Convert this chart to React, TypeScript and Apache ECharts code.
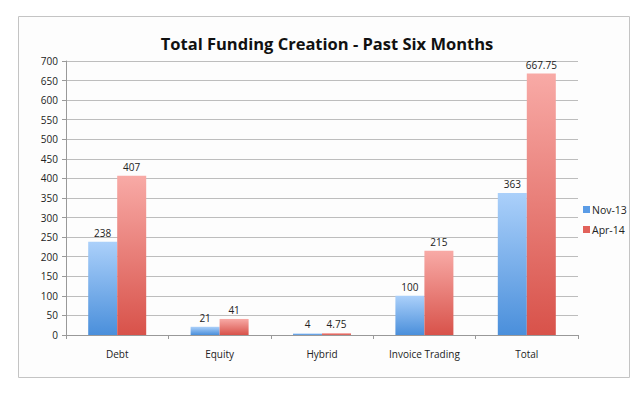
import React, { useEffect, useRef } from "react";
import * as echarts from "echarts";

const categories = ["Debt", "Equity", "Hybrid", "Invoice Trading", "Total"];
const nov13 = [238, 21, 4, 100, 363];
const apr14 = [407, 41, 4.75, 215, 667.75];
const seriesNames = ["Nov-13", "Apr-14"];

export default function App() {
  const ref = useRef<HTMLDivElement>(null);
  useEffect(() => {
    const chart = echarts.init(ref.current!, null, { renderer: "svg" });
    const blue = new echarts.graphic.LinearGradient(0, 0, 0, 1, [
      { offset: 0, color: "#abd0fa" },
      { offset: 1, color: "#4a8fdb" },
    ]);
    const red = new echarts.graphic.LinearGradient(0, 0, 0, 1, [
      { offset: 0, color: "#f8aaa6" },
      { offset: 1, color: "#d8524a" },
    ]);
    const font = "'Open Sans', 'Noto Sans', sans-serif";
    chart.setOption({
      animation: false,
      backgroundColor: "#ffffff",
      graphic: [
        {
          type: "rect",
          z: -10,
          shape: { x: 18.5, y: 16.5, width: 611, height: 361 },
          style: { fill: "#fdfdfd", stroke: "#c4c4c4", lineWidth: 1 },
        },
      ],
      title: {
        text: "Total Funding Creation - Past Six Months",
        left: 322,
        textAlign: "center",
        top: 30,
        textStyle: { fontFamily: font, fontSize: 16.5, fontWeight: "bold", color: "#111" },
      },
      legend: {
        orient: "vertical",
        left: 578,
        top: 199,
        itemWidth: 7,
        itemHeight: 7,
        itemGap: 9,
        icon: "rect",
        data: [
          { name: seriesNames[0], itemStyle: { color: "#5b9ce6" } },
          { name: seriesNames[1], itemStyle: { color: "#e2625b" } },
        ],
        textStyle: { fontFamily: font, fontSize: 10.5, color: "#222", padding: [0, 0, 0, -3] },
      },
      grid: { left: 66, right: 63, top: 61, bottom: 62 },
      xAxis: {
        type: "category",
        data: categories,
        axisLine: { lineStyle: { color: "#999" } },
        axisTick: { show: true, length: 4, lineStyle: { color: "#999" } },
        axisLabel: { fontFamily: font, fontSize: 10, color: "#222", margin: 14 },
      },
      yAxis: {
        type: "value",
        min: 0,
        max: 700,
        interval: 50,
        axisLine: { show: true, lineStyle: { color: "#999" } },
        axisTick: { show: true, length: 4, lineStyle: { color: "#999" } },
        axisLabel: { fontFamily: font, fontSize: 10, color: "#222", margin: 8 },
        splitLine: { lineStyle: { color: "#bdbdbd" } },
      },
      series: [
        {
          name: seriesNames[0],
          type: "bar",
          data: nov13,
          barWidth: 29,
          barGap: "0%",
          itemStyle: { color: blue },
          label: { show: true, position: "top", distance: 4, fontFamily: font, fontSize: 10, color: "#222" },
        },
        {
          name: seriesNames[1],
          type: "bar",
          data: apr14,
          barWidth: 29,
          barGap: "0%",
          itemStyle: { color: red },
          label: { show: true, position: "top", distance: 4, fontFamily: font, fontSize: 10, color: "#222" },
        },
      ],
    });
    return () => chart.dispose();
  }, []);
  return (
    <div
      ref={ref}
      style={{ position: "absolute", left: 0, top: 0, width: 641, height: 397 }}
    />
  );
}
